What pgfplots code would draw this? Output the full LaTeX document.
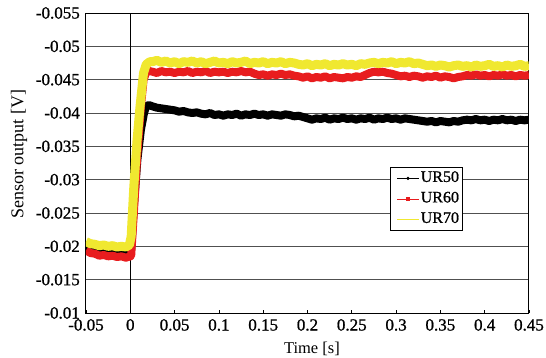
\documentclass[border=0pt]{standalone}
\usepackage{pgfplots}
\usepackage{pgfplotstable}
\pgfplotsset{compat=1.18}
\usepackage{fontspec}
\setmainfont{Liberation Serif}
\newfontfamily\tickfont{Liberation Serif}[FakeBold=1]
\definecolor{urred}{RGB}{232,28,30}
\definecolor{uryellow}{RGB}{240,232,48}
\definecolor{gridgray}{RGB}{80,80,80}

\pgfplotstableread{
t y
-0.050 -0.0198
-0.045 -0.0196
-0.040 -0.0197
-0.035 -0.0195
-0.030 -0.0196
-0.025 -0.0194
-0.020 -0.0195
-0.015 -0.0194
-0.010 -0.0195
-0.005 -0.0193
0.000 -0.0194
0.001 -0.0195
0.004 -0.0260
0.008 -0.0330
0.012 -0.0375
0.0155 -0.0400
0.018 -0.0410
0.021 -0.0412
0.025 -0.0410
0.030 -0.0408
0.035 -0.0407
0.040 -0.0406
0.045 -0.0405
0.050 -0.0404
0.055 -0.0402
0.060 -0.0403
0.065 -0.0401
0.070 -0.0400
0.075 -0.0401
0.080 -0.0399
0.085 -0.0398
0.090 -0.0400
0.095 -0.0397
0.100 -0.0398
0.105 -0.0396
0.110 -0.0398
0.115 -0.0397
0.120 -0.0399
0.125 -0.0396
0.130 -0.0398
0.135 -0.0397
0.140 -0.0399
0.145 -0.0397
0.150 -0.0398
0.155 -0.0396
0.160 -0.0398
0.165 -0.0397
0.170 -0.0396
0.175 -0.0398
0.180 -0.0397
0.185 -0.0395
0.190 -0.0396
0.195 -0.0394
0.200 -0.0392
0.205 -0.0390
0.210 -0.0392
0.215 -0.0391
0.220 -0.0393
0.225 -0.0390
0.230 -0.0392
0.235 -0.0391
0.240 -0.0393
0.245 -0.0391
0.250 -0.0392
0.255 -0.0390
0.260 -0.0392
0.265 -0.0391
0.270 -0.0393
0.275 -0.0390
0.280 -0.0392
0.285 -0.0391
0.290 -0.0393
0.295 -0.0391
0.300 -0.0392
0.305 -0.0390
0.310 -0.0392
0.315 -0.0391
0.320 -0.0390
0.325 -0.0389
0.330 -0.0388
0.335 -0.0387
0.340 -0.0388
0.345 -0.0386
0.350 -0.0388
0.355 -0.0387
0.360 -0.0386
0.365 -0.0388
0.370 -0.0387
0.375 -0.0389
0.380 -0.0390
0.385 -0.0389
0.390 -0.0391
0.395 -0.0389
0.400 -0.0390
0.405 -0.0388
0.410 -0.0390
0.415 -0.0389
0.420 -0.0391
0.425 -0.0389
0.430 -0.0390
0.435 -0.0388
0.440 -0.0390
0.445 -0.0389
0.450 -0.0390
}\urfifty

\pgfplotstableread{
t y
-0.050 -0.0194
-0.045 -0.0190
-0.040 -0.0189
-0.035 -0.0186
-0.030 -0.0187
-0.025 -0.0185
-0.020 -0.0186
-0.015 -0.0184
-0.010 -0.0185
-0.005 -0.0183
0.000 -0.0185
0.001 -0.0186
0.004 -0.0250
0.008 -0.0340
0.012 -0.0410
0.015 -0.0450
0.018 -0.0461
0.021 -0.0463
0.025 -0.0462
0.030 -0.0460
0.035 -0.0463
0.040 -0.0461
0.045 -0.0462
0.050 -0.0460
0.055 -0.0462
0.060 -0.0461
0.065 -0.0463
0.070 -0.0460
0.075 -0.0462
0.080 -0.0461
0.085 -0.0463
0.090 -0.0460
0.095 -0.0462
0.100 -0.0461
0.105 -0.0462
0.110 -0.0460
0.115 -0.0462
0.120 -0.0461
0.125 -0.0463
0.130 -0.0461
0.135 -0.0462
0.140 -0.0459
0.145 -0.0457
0.150 -0.0458
0.155 -0.0456
0.160 -0.0458
0.165 -0.0457
0.170 -0.0459
0.175 -0.0457
0.180 -0.0458
0.185 -0.0456
0.190 -0.0455
0.195 -0.0453
0.200 -0.0455
0.205 -0.0452
0.210 -0.0454
0.215 -0.0453
0.220 -0.0455
0.225 -0.0452
0.230 -0.0454
0.235 -0.0453
0.240 -0.0452
0.245 -0.0454
0.250 -0.0453
0.255 -0.0455
0.260 -0.0454
0.265 -0.0457
0.270 -0.0460
0.275 -0.0462
0.280 -0.0461
0.285 -0.0462
0.290 -0.0460
0.295 -0.0459
0.300 -0.0457
0.305 -0.0455
0.310 -0.0456
0.315 -0.0454
0.320 -0.0456
0.325 -0.0455
0.330 -0.0453
0.335 -0.0455
0.340 -0.0454
0.345 -0.0456
0.350 -0.0453
0.355 -0.0455
0.360 -0.0454
0.365 -0.0452
0.370 -0.0454
0.375 -0.0455
0.380 -0.0457
0.385 -0.0456
0.390 -0.0458
0.395 -0.0456
0.400 -0.0457
0.405 -0.0455
0.410 -0.0457
0.415 -0.0456
0.420 -0.0458
0.425 -0.0456
0.430 -0.0457
0.435 -0.0455
0.440 -0.0457
0.445 -0.0456
0.450 -0.0457
}\ursixty

\pgfplotstableread{
t y
-0.050 -0.0207
-0.045 -0.0204
-0.040 -0.0203
-0.035 -0.0201
-0.030 -0.0202
-0.025 -0.0200
-0.020 -0.0201
-0.015 -0.0199
-0.010 -0.0200
-0.005 -0.0199
-0.001 -0.0202
0.001 -0.0215
0.004 -0.0290
0.0076 -0.0359
0.011 -0.0410
0.0149 -0.0460
0.018 -0.0473
0.022 -0.0477
0.025 -0.0477
0.030 -0.0479
0.035 -0.0476
0.040 -0.0478
0.045 -0.0475
0.050 -0.0477
0.055 -0.0474
0.060 -0.0477
0.065 -0.0476
0.070 -0.0478
0.075 -0.0475
0.080 -0.0477
0.085 -0.0474
0.090 -0.0476
0.095 -0.0478
0.100 -0.0475
0.105 -0.0476
0.110 -0.0474
0.115 -0.0477
0.120 -0.0475
0.125 -0.0476
0.130 -0.0478
0.135 -0.0474
0.140 -0.0476
0.145 -0.0475
0.150 -0.0477
0.155 -0.0474
0.160 -0.0476
0.165 -0.0475
0.170 -0.0477
0.175 -0.0474
0.180 -0.0476
0.185 -0.0475
0.190 -0.0473
0.195 -0.0472
0.200 -0.0474
0.205 -0.0471
0.210 -0.0473
0.215 -0.0472
0.220 -0.0474
0.225 -0.0471
0.230 -0.0473
0.235 -0.0472
0.240 -0.0474
0.245 -0.0472
0.250 -0.0473
0.255 -0.0471
0.260 -0.0474
0.265 -0.0473
0.270 -0.0475
0.275 -0.0476
0.280 -0.0474
0.285 -0.0476
0.290 -0.0475
0.295 -0.0477
0.300 -0.0474
0.305 -0.0476
0.310 -0.0475
0.315 -0.0477
0.320 -0.0474
0.325 -0.0475
0.330 -0.0473
0.335 -0.0471
0.340 -0.0472
0.345 -0.0470
0.350 -0.0472
0.355 -0.0471
0.360 -0.0469
0.365 -0.0471
0.370 -0.0472
0.375 -0.0470
0.380 -0.0471
0.385 -0.0469
0.390 -0.0472
0.395 -0.0470
0.400 -0.0471
0.405 -0.0473
0.410 -0.0470
0.415 -0.0471
0.420 -0.0469
0.425 -0.0472
0.430 -0.0470
0.435 -0.0471
0.440 -0.0473
0.445 -0.0470
0.450 -0.0471
}\urseventy

\begin{document}
\begin{tikzpicture}
\path[use as bounding box] (-86pt,-44pt) rectangle (460pt,313pt);
\begin{axis}[
  at={(0,0)}, anchor=south west,
  scale only axis, width=443pt, height=300pt,
  xmin=-0.05, xmax=0.45,
  ymin=-0.055, ymax=-0.01,
  y dir=reverse,
  scaled x ticks=false, scaled y ticks=false,
  xtick={-0.05,0,0.05,0.1,0.15,0.2,0.25,0.3,0.35,0.4,0.45},
  xticklabels={-0.05,0,0.05,0.1,0.15,0.2,0.25,0.3,0.35,0.4,0.45},
  ytick={-0.055,-0.05,-0.045,-0.04,-0.035,-0.03,-0.025,-0.02,-0.015,-0.01},
  yticklabels={-0.055,-0.05,-0.045,-0.04,-0.035,-0.03,-0.025,-0.02,-0.015,-0.01},
  tick label style={font=\tickfont\fontsize{17}{19}\selectfont},
  xticklabel style={anchor=north, inner sep=0pt, yshift=-6pt},
  yticklabel style={anchor=east, inner sep=0pt, xshift=-6pt},
  tick pos=left,
  xtick style={draw=black, line width=0.6pt},
  major tick length=3pt,
  tick align=inside,
  ytick style={draw=none},
  ymajorgrids=true,
  major grid style={draw=gridgray, line width=0.7pt},
  axis line style={black, line width=1pt},
  xlabel={Time [s]},
  ylabel={Sensor output [V]},
  xlabel style={font=\fontsize{16.5}{18}\selectfont, at={(axis description cs:0.51,0)}, anchor=north, inner sep=0pt, yshift=-29pt},
  ylabel style={font=\fontsize{18}{20}\selectfont, at={(axis description cs:-0.1512,0.53)}, anchor=center, inner sep=0pt},
  legend style={at={(axis description cs:0.686,0.487)}, anchor=north west,
    draw=black, line width=1pt, fill=white, font=\tickfont\fontsize{16}{18}\selectfont,
    inner xsep=2pt, inner ysep=2pt, row sep=2.5pt,
    nodes={inner sep=1.5pt, text height=11pt, text depth=4pt, anchor=west}},
  legend cell align=left,
  legend image code/.code={\path (0cm,0cm); \draw[mark repeat=2,mark phase=2] plot coordinates {(0.15cm,0cm) (0.53cm,0cm) (0.91cm,0cm)};},
]
\addplot[black, line width=0.6pt, forget plot] coordinates {(0,-0.055) (0,-0.01)};
\addplot[black, line width=8pt, line join=round, forget plot] table[x=t,y=y] {\urfifty};
\addplot[urred, line width=8pt, line join=round, forget plot] table[x=t,y=y] {\ursixty};
\addplot[uryellow, line width=9pt, line join=round, forget plot] table[x=t,y=y] {\urseventy};
\addlegendimage{black, line width=0.8pt, mark=*, mark size=1.2pt}
\addlegendentry{UR50}
\addlegendimage{urred, line width=0.8pt, mark=square*, mark size=1.2pt}
\addlegendentry{UR60}
\addlegendimage{uryellow, line width=1pt}
\addlegendentry{UR70}
\end{axis}
\end{tikzpicture}
\end{document}
